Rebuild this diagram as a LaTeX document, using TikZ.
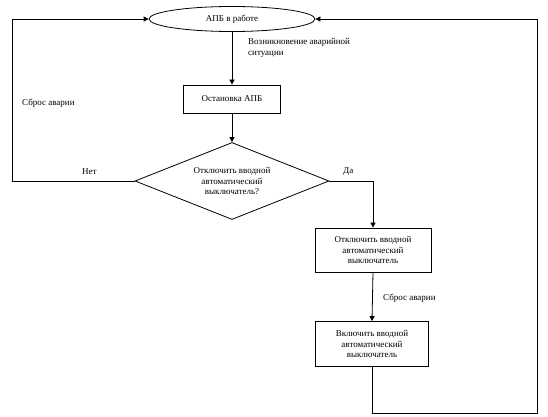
\documentclass[tikz,border=0pt]{standalone}
\usepackage{fontspec}
\setmainfont{Liberation Serif}
\usetikzlibrary{shapes.geometric,arrows.meta}
\begin{document}
\begin{tikzpicture}[x=1pt,y=-1pt,
  every node/.style={font=\fontsize{9}{10.5}\selectfont},
  box/.style={draw,thick,rectangle,align=center,inner sep=0pt},
  lbl/.style={align=left,anchor=west,inner sep=0pt},
  con/.style={draw,thick,-{Triangle[length=5pt,width=5pt]}},
  ln/.style={draw,thick}]
\useasboundingbox (0,0) rectangle (548,417);
\fill[white] (0,0) rectangle (548,417);
\node[draw,thick,ellipse,minimum width=166pt,minimum height=25pt,inner sep=0pt] (e) at (232,19) {АПБ в работе};
\node[box,minimum width=97pt,minimum height=28pt] (b1) at (232,99) {Остановка АПБ};
\node[draw,thick,diamond,aspect=2.5,minimum width=194pt,minimum height=77pt,inner sep=0pt,align=center] (d) at (232,181) {Отключить вводной\\автоматический\\выключатель?};
\node[box,minimum width=116pt,minimum height=44pt] (b2) at (373,250) {Отключить вводной\\автоматический\\выключатель};
\node[box,minimum width=113pt,minimum height=45pt] (b3) at (372,344) {Включить вводной\\автоматический\\выключатель};
\coordinate (l1) at (12,19);
\coordinate (l2) at (12,181);
\coordinate (r1) at (373,181);
\coordinate (q1) at (372,413);
\coordinate (q2) at (537,413);
\coordinate (q3) at (537,19);
\path[con] (e.south) -- (b1.north);
\path[con] (b1.south) -- (d.north);
\path[con] (d.west) -- (l2) -- (l1) -- (e.west);
\path[con] (d.east) -- (r1) -- (b2.north);
\path[con] (b2.south) -- (b3.north);
\path[con] (b3.south) -- (q1) -- (q2) -- (q3) -- (e.east);
\node[lbl] (t1) at (248,48) {Возникновение аварийной\\ситуации};
\node[lbl] (t2) at (22,103) {Сброс аварии};
\node[lbl] (t3) at (82,172) {Нет};
\node[lbl] (t4) at (343,172) {Да};
\node[lbl] (t5) at (383,298) {Сброс аварии};
\end{tikzpicture}
\end{document}
